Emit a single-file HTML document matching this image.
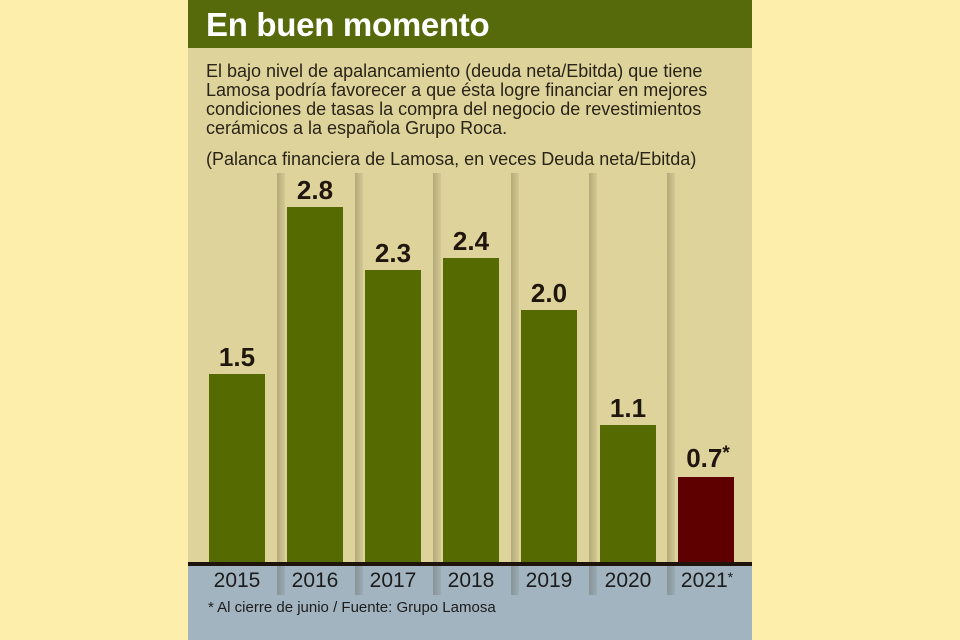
<!DOCTYPE html>
<html><head><meta charset="utf-8"><style>
body{margin:0;width:960px;height:640px;background:#fdeeab;position:relative;overflow:hidden;font-family:"Liberation Sans","DejaVu Sans",sans-serif}
.panel{position:absolute;left:188px;top:0;width:564px;height:640px;background:#ddd39b}
.hdr{position:absolute;left:0;top:0;width:564px;height:48px;background:#566a0c;color:#fff;font-weight:bold;font-size:33px;line-height:50px;padding-left:18px;box-sizing:border-box;letter-spacing:-0.3px}
.txt{position:absolute;left:18px;top:62px;font-size:18px;line-height:19px;color:#2a2418;width:545px}
.sub{position:absolute;left:18px;top:149px;font-size:18px;color:#2a2418}
.blue{position:absolute;left:0;top:566px;width:564px;height:74px;background:#a1b4bf}
.base{position:absolute;left:0;top:562px;width:564px;height:4px;background:#1e140c}
.div{position:absolute;top:173px;width:8px;height:422px;background:linear-gradient(90deg,rgba(60,50,20,0.25),rgba(0,0,0,0.05))}
.bar{position:absolute;width:56px;background:#556a00}
.val{position:absolute;width:90px;text-align:center;font-weight:bold;font-size:26px;color:#20160e}
.yr{position:absolute;top:569px;width:78px;text-align:center;font-size:21px;color:#1c1c1c}
.note{position:absolute;left:20px;top:599px;font-size:15px;color:#1c1c1c}
</style></head><body>
<div class="panel">
<div class="hdr">En buen momento</div>
<div class="txt">El bajo nivel de apalancamiento (deuda neta/Ebitda) que tiene Lamosa podría favorecer a que ésta logre financiar en mejores condiciones de tasas la compra del negocio de revestimientos cerámicos a la española Grupo Roca.</div>
<div class="sub">(Palanca financiera de Lamosa, en veces Deuda neta/Ebitda)</div>
<div class="blue"></div>
<div class="div" style="left:89px"></div>
<div class="div" style="left:167px"></div>
<div class="div" style="left:245px"></div>
<div class="div" style="left:323px"></div>
<div class="div" style="left:401px"></div>
<div class="div" style="left:479px"></div>

<div class="bar" style="left:21px;top:374px;height:190px"></div>
<div class="bar" style="left:99px;top:207px;height:357px"></div>
<div class="bar" style="left:177px;top:270px;height:294px"></div>
<div class="bar" style="left:255px;top:258px;height:306px"></div>
<div class="bar" style="left:333px;top:310px;height:254px"></div>
<div class="bar" style="left:412px;top:425px;height:139px"></div>
<div class="bar" style="left:490px;top:477px;height:87px;background:#5e0000"></div>
<div class="base"></div>

<div class="val" style="left:4px;top:342px">1.5</div>
<div class="val" style="left:82px;top:175px">2.8</div>
<div class="val" style="left:160px;top:238px">2.3</div>
<div class="val" style="left:238px;top:226px">2.4</div>
<div class="val" style="left:316px;top:278px">2.0</div>
<div class="val" style="left:395px;top:393px">1.1</div>
<div class="val" style="left:475px;top:443px">0.7<span style="font-size:19px;vertical-align:top">*</span></div>

<div class="yr" style="left:10px">2015</div>
<div class="yr" style="left:88px">2016</div>
<div class="yr" style="left:166px">2017</div>
<div class="yr" style="left:244px">2018</div>
<div class="yr" style="left:322px">2019</div>
<div class="yr" style="left:401px">2020</div>
<div class="yr" style="left:480px">2021<span style="font-size:14px;vertical-align:top">*</span></div>
<div class="note">* Al cierre de junio / Fuente: Grupo Lamosa</div>
</div>
</body></html>
